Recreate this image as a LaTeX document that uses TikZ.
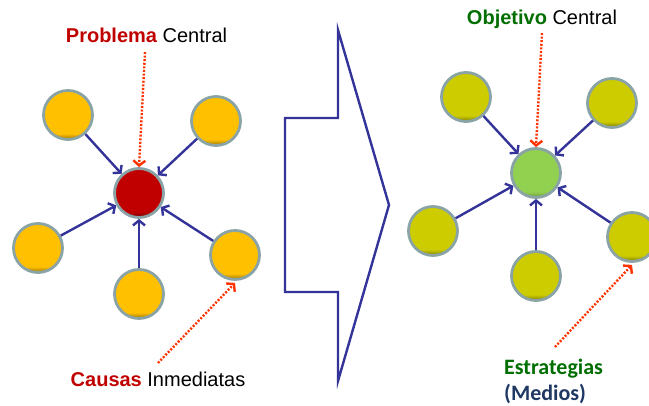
\documentclass[tikz,border=0pt]{standalone}
\usepackage{fontspec}
\setmainfont{Liberation Sans}
\newfontfamily\calibrifont{Carlito}
\usetikzlibrary{arrows.meta}
\definecolor{causeyellow}{HTML}{FFC000}
\definecolor{meansolive}{HTML}{CCCC00}
\definecolor{problemred}{HTML}{C00000}
\definecolor{goalgreen}{HTML}{92D050}
\definecolor{ballrim}{HTML}{89A3A6}
\definecolor{linkblue}{HTML}{333399}
\definecolor{hintred}{HTML}{FF3300}
\definecolor{textred}{HTML}{C00000}
\definecolor{textgreen}{HTML}{006E00}
\definecolor{textnavy}{HTML}{1F3864}
% darker rim at the bottom of each ball
\pgfdeclareverticalshading{causeball}{100bp}{color(0bp)=(causeyellow!60!black); color(25bp)=(causeyellow!60!black); color(31bp)=(causeyellow); color(100bp)=(causeyellow)}
\pgfdeclareverticalshading{problemball}{100bp}{color(0bp)=(problemred!60!black); color(25bp)=(problemred!60!black); color(31bp)=(problemred); color(100bp)=(problemred)}
\pgfdeclareverticalshading{meansball}{100bp}{color(0bp)=(meansolive!60!black); color(25bp)=(meansolive!60!black); color(31bp)=(meansolive); color(100bp)=(meansolive)}
\pgfdeclareverticalshading{goalball}{100bp}{color(0bp)=(goalgreen!75!black); color(25bp)=(goalgreen!75!black); color(31bp)=(goalgreen); color(100bp)=(goalgreen)}
\begin{document}
\begin{tikzpicture}[x=1pt, y=-1pt,
	font=\fontsize{20}{24}\selectfont,
	ball/.style={circle, draw=ballrim, line width=2.8pt, minimum size=49pt, inner sep=0pt},
	cause node/.style={ball, shading=causeball},
	problem node/.style={ball, shading=problemball},
	means node/.style={ball, shading=meansball},
	goal node/.style={ball, shading=goalball},
	link/.style={draw=linkblue, line width=2.4pt, -{Straight Barb[length=5pt,width=12pt]}},
	hint/.style={draw=hintred, line width=2.4pt, dash pattern=on 2pt off 1.6pt, -{Straight Barb[length=5pt,width=12pt]}},
	label text/.style={inner sep=0pt, anchor=base}]

	\useasboundingbox (0,0) rectangle (649,406);

	% problem tree
	\node[problem node] (Problem) at (139,193) {};
	\node[cause node] (CauseA) at (68,115) {};
	\node[cause node] (CauseB) at (216,121) {};
	\node[cause node] (CauseC) at (38,248) {};
	\node[cause node] (CauseD) at (139,294) {};
	\node[cause node] (CauseE) at (235,255) {};
	\foreach \c in {CauseA,CauseB,CauseC,CauseD,CauseE}
		\draw[link] (\c) -- (Problem);

	\node[label text] (ProblemText) at (146.5,43) {\textbf{\textcolor{textred}{Problema}} Central};
	\node[label text] (CauseText) at (158,387) {\textbf{\textcolor{textred}{Causas}} Inmediatas};
	\coordinate (ProblemHint) at (145,52);
	\coordinate (CauseHint) at (158,363);
	\draw[hint] (ProblemHint) -- (Problem.north);
	\draw[hint] (CauseHint) -- ([yshift=-2pt]CauseE.south);

	% transition arrow
	\draw[linkblue, line width=2.4pt, line join=miter]
		(285,118) -- (338,118) -- (338,30) -- (389,205) -- (338,381) -- (338,292) -- (285,292) -- cycle;

	% objective tree
	\node[goal node] (Goal) at (536,173) {};
	\node[means node] (MeansA) at (466,97) {};
	\node[means node] (MeansB) at (612,103) {};
	\node[means node] (MeansC) at (433,231) {};
	\node[means node] (MeansD) at (536,276) {};
	\node[means node] (MeansE) at (632,237) {};
	\foreach \m in {MeansA,MeansB,MeansC,MeansD,MeansE}
		\draw[link] (\m) -- (Goal);

	\node[label text] (GoalText) at (542,25) {\textbf{\textcolor{textgreen}{Objetivo}} Central};
	\node[label text, anchor=base west] (MeansText) at (504,375) {\calibrifont\fontsize{22}{24}\selectfont\bfseries\textcolor{textgreen}{Estrategias}};
	\node[label text, anchor=base west] (MeansNote) at (504,401) {\calibrifont\fontsize{22}{24}\selectfont\bfseries\textcolor{textnavy}{(Medios)}};
	\coordinate (GoalHint) at (542,33);
	\coordinate (MeansHint) at (555,347);
	\draw[hint] (GoalHint) -- (Goal.north);
	\draw[hint] (MeansHint) -- ([yshift=-2pt]MeansE.south);
\end{tikzpicture}
\end{document}
